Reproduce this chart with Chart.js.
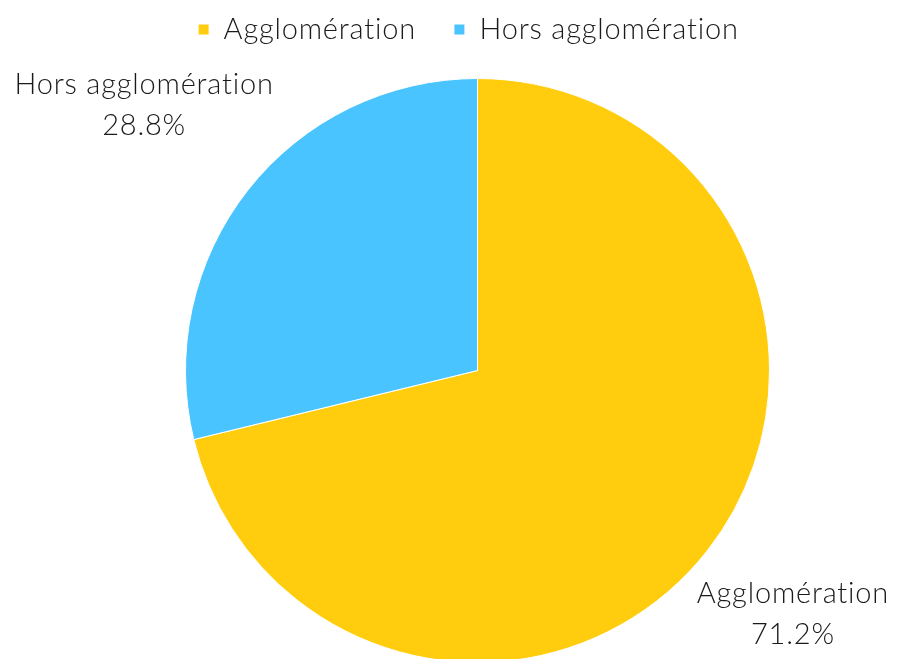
<!DOCTYPE html>
<html>
<head>
<meta charset="utf-8">
<script src="https://cdn.jsdelivr.net/npm/chart.js@4.4.1/dist/chart.umd.min.js"></script>
<style>
  html, body { margin: 0; padding: 0; background: #fff; overflow: hidden; }
  #wrap { width: 898px; height: 670px; }
</style>
</head>
<body>
<div id="wrap"><canvas id="pieChart"></canvas></div>
<script>
const categories = ['Agglomération', 'Hors agglomération'];
const shares = [71.2, 28.8];
const sliceColors = ['#FFCD0E', '#4AC4FF'];

const FONT = 'Lato, "Open Sans", sans-serif';
const SPACING = '0.8px';

// wider tracking for every text the chart draws
const tracking = {
    id: 'tracking',
    beforeInit(chart) { chart.ctx.letterSpacing = SPACING; },
    beforeDraw(chart) { chart.ctx.letterSpacing = SPACING; }
};

// draws "name / xx.x%" outside each slice
const outsideLabels = {
    id: 'outsideLabels',
    afterDatasetsDraw(chart) {
        const ctx = chart.ctx;
        const meta = chart.getDatasetMeta(0);
        ctx.save();
        ctx.font = '300 29px ' + FONT;
        ctx.fillStyle = '#1a1a1a';
        ctx.textAlign = 'center';
        ctx.textBaseline = 'alphabetic';
        meta.data.forEach((arc, i) => {
            const mid = (arc.startAngle + arc.endAngle) / 2;
            const r = arc.outerRadius * 1.413;
            const x = arc.x + Math.cos(mid) * r - 9;
            const y = arc.y + Math.sin(mid) * r - 12;
            ctx.fillText(categories[i], x, y - 10);
            ctx.fillText(shares[i].toFixed(1) + '%', x, y + 31);
        });
        ctx.restore();
    }
};

// fixed legend block height so the pie starts lower; legend sits a bit left of the pie centre
const legendGap = {
    id: 'legendGap',
    beforeInit(chart) {
        const fit = chart.legend.fit;
        chart.legend.fit = function () {
            fit.call(this);
            this.height = 101;
        };
    },
    afterLayout(chart) {
        chart.legend.left -= 21;
        chart.legend.right -= 21;
    }
};

const ctx = document.getElementById('pieChart').getContext('2d');
const pieChart = new Chart(ctx, {
    type: 'pie',
    data: {
        labels: categories,
        datasets: [{
            data: shares,
            backgroundColor: sliceColors,
            borderColor: '#ffffff',
            borderWidth: 1
        }]
    },
    options: {
        responsive: true,
        maintainAspectRatio: false,
        animation: false,
        layout: { padding: { left: 57, right: 0, top: -23, bottom: 7 } },
        plugins: {
            legend: {
                position: 'top',
                labels: {
                    boxWidth: 11,
                    boxHeight: 11,
                    padding: 38,
                    color: '#1a1a1a',
                    font: { family: FONT, size: 29, weight: '300' }
                }
            },
            tooltip: { enabled: false }
        }
    },
    plugins: [tracking, outsideLabels, legendGap]
});
</script>
</body>
</html>
